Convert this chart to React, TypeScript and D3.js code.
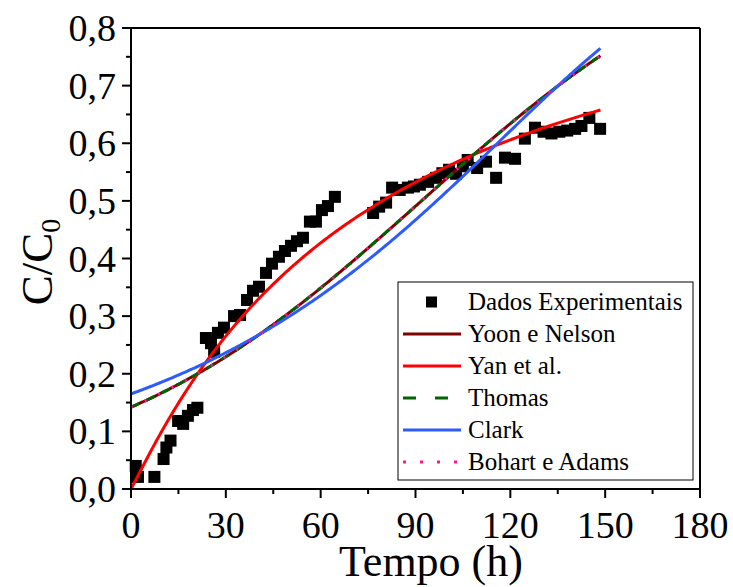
import React from "react";
import * as d3 from "d3";

const tData = [1.5, 2.2, 7.4, 10.3, 11.2, 12.5, 14.9, 16.5, 18, 19.6, 21, 23.7, 25.3, 26.3, 27.5, 29.4, 32.6, 34.5, 36.7, 38.6, 40.5, 42.7, 44.6, 46.8, 48.7, 50.6, 52.5, 54.4, 56.6, 58.5, 60.4, 62.3, 64.5, 76.6, 78.5, 80.7, 82.6, 85, 87.6, 89.5, 91.4, 94, 96.5, 98.5, 100.6, 102.8, 105, 106.5, 109.5, 112.3, 115.5, 118.3, 121.5, 124.6, 127.8, 130.5, 133, 135.5, 138, 140.5, 142.5, 145, 148.4];
const yData = [0.04, 0.021, 0.021, 0.052, 0.072, 0.084, 0.118, 0.113, 0.127, 0.137, 0.141, 0.262, 0.253, 0.238, 0.271, 0.28, 0.3, 0.302, 0.328, 0.344, 0.351, 0.375, 0.391, 0.403, 0.413, 0.422, 0.43, 0.436, 0.464, 0.464, 0.484, 0.491, 0.507, 0.479, 0.49, 0.497, 0.523, 0.519, 0.523, 0.525, 0.528, 0.533, 0.54, 0.548, 0.554, 0.547, 0.56, 0.571, 0.557, 0.568, 0.54, 0.575, 0.573, 0.608, 0.627, 0.62, 0.617, 0.62, 0.622, 0.625, 0.63, 0.644, 0.625];

// fitted model parameters
const logisticK = 0.01957;
const logisticTau = 91.9;
const yanA = 1.045;
const yanB = 79.5;
const clarkA = 89.4;
const clarkR = 0.03056;
const clarkM = 0.4;

const xTicks = [0, 30, 60, 90, 120, 150, 180];
const yTicks = [0, 0.1, 0.2, 0.3, 0.4, 0.5, 0.6, 0.7, 0.8];
const legendLabels = ["Dados Experimentais", "Yoon e Nelson", "Yan et al.", "Thomas", "Clark", "Bohart e Adams"];

const W = 733, H = 587;
const L = 131, R = 700, T = 28, B = 489;
const FONT = "'Liberation Serif', 'Times New Roman', serif";

export default function App() {
  const x = d3.scaleLinear().domain([0, 180]).range([L, R]);
  const y = d3.scaleLinear().domain([0, 0.8]).range([B, T]);
  const tCurve = d3.range(0, 148.51, 0.5);
  const line = d3.line<[number, number]>().x(d => x(d[0])).y(d => y(d[1]));
  const logistic = tCurve.map(t => [t, 1 / (1 + Math.exp(logisticK * (logisticTau - t)))] as [number, number]);
  const yan = tCurve.map(t => { const q = Math.pow(t / yanB, yanA); return [t, q / (1 + q)] as [number, number]; });
  const clark = tCurve.map(t => [t, Math.pow(1 / (1 + clarkA * Math.exp(-clarkR * t)), clarkM)] as [number, number]);
  const xMinor = d3.range(15, 180, 30);
  const yMinor = d3.range(0.05, 0.8, 0.1);
  const ms = 12;

  const legX = 398, legY = 282, legW = 295, legH = 198;
  const rowY = (i: number) => 302 + i * 32;
  const lineStyles = [
    { stroke: "#800000", dash: undefined },
    { stroke: "#FF0000", dash: undefined },
    { stroke: "#006400", dash: "13 19" },
    { stroke: "#2E5BFF", dash: undefined },
    { stroke: "#FF1493", dash: "3 14" },
  ];

  return (
    <svg width={W} height={H} style={{ position: "absolute", left: 0, top: 0, background: "#fff" }} fontFamily={FONT}>
      <rect x={0} y={0} width={W} height={H} fill="#fff" />
      {/* data */}
      {tData.map((t, i) => (
        <rect key={i} x={x(t) - ms / 2} y={y(yData[i]) - ms / 2} width={ms} height={ms} fill="#000" />
      ))}
      {/* curves */}
      <path d={line(logistic)!} fill="none" stroke="#800000" strokeWidth={3} />
      <path d={line(yan)!} fill="none" stroke="#FF0000" strokeWidth={3} />
      <path d={line(logistic)!} fill="none" stroke="#006400" strokeWidth={3} strokeDasharray="9 8" />
      <path d={line(clark)!} fill="none" stroke="#2E5BFF" strokeWidth={3} />
      <path d={line(logistic)!} fill="none" stroke="#FF1493" strokeWidth={3} strokeDasharray="2 13" />
      {/* frame */}
      <line x1={L} y1={T} x2={R} y2={T} stroke="#000" strokeWidth={2} />
      <line x1={R} y1={T} x2={R} y2={B} stroke="#000" strokeWidth={2} />
      <line x1={L} y1={B} x2={R + 1} y2={B} stroke="#000" strokeWidth={2} />
      <line x1={L} y1={T - 1} x2={L} y2={B + 1} stroke="#000" strokeWidth={2} />
      {/* x ticks */}
      {xTicks.map(v => (
        <g key={v}>
          <line x1={x(v)} y1={B} x2={x(v)} y2={B + 9} stroke="#000" strokeWidth={2} />
          <text x={x(v)} y={538} textAnchor="middle" fontSize={38}>{v}</text>
        </g>
      ))}
      {xMinor.map(v => (
        <line key={v} x1={x(v)} y1={B} x2={x(v)} y2={B + 5} stroke="#000" strokeWidth={2} />
      ))}
      {/* y ticks */}
      {yTicks.map(v => (
        <g key={v}>
          <line x1={L - 9} y1={y(v)} x2={L} y2={y(v)} stroke="#000" strokeWidth={2} />
          <text x={116} y={y(v) + 13} textAnchor="end" fontSize={38}>{v.toFixed(1).replace(".", ",")}</text>
        </g>
      ))}
      {yMinor.map(v => (
        <line key={v} x1={L - 5} y1={y(v)} x2={L} y2={y(v)} stroke="#000" strokeWidth={2} />
      ))}
      {/* titles */}
      <text x={431} y={576} textAnchor="middle" fontSize={44}>Tempo (h)</text>
      <text transform="translate(52,262) rotate(-90)" textAnchor="middle" fontSize={45}>
        C/C<tspan fontSize={28} dy={8}>0</tspan>
      </text>
      {/* legend */}
      <rect x={legX} y={legY} width={legW} height={legH} fill="#fff" stroke="#000" strokeWidth={1} />
      <rect x={431.5 - 5.5} y={rowY(0) - 5.5} width={11} height={11} fill="#000" />
      {lineStyles.map((s, i) => (
        <line key={i} x1={403} x2={461} y1={rowY(i + 1)} y2={rowY(i + 1)} stroke={s.stroke} strokeWidth={3} strokeDasharray={s.dash} />
      ))}
      {legendLabels.map((lab, i) => (
        <text key={lab} x={468} y={rowY(i) + 8} fontSize={25}>{lab}</text>
      ))}
    </svg>
  );
}
